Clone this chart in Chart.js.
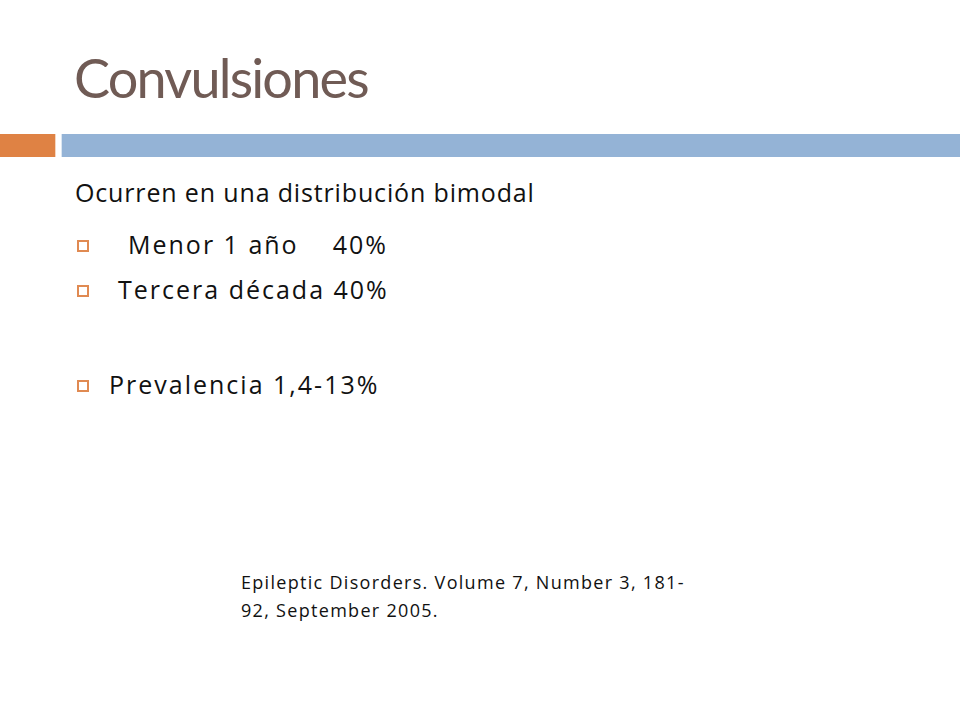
<!DOCTYPE html>
<html>
<head>
<meta charset="utf-8">
<script src="https://cdn.jsdelivr.net/npm/chart.js@4"></script>
<style>
  html, body { margin: 0; padding: 0; background: #fff; }
  body { width: 960px; height: 720px; position: relative; overflow: hidden; font-family: "Open Sans", Lato, sans-serif; }
  .title { position: absolute; left: 74px; top: 45px; font-family: Lato, sans-serif; font-size: 54px; letter-spacing: -1.8px; color: #705b55; white-space: nowrap; }
  .band { position: absolute; left: 0; top: 134px; width: 960px; height: 23px; }
  .lead { position: absolute; left: 75px; top: 175px; font-size: 25px; letter-spacing: 0.85px; color: #111; white-space: nowrap; }
  .item { position: absolute; font-size: 25px; letter-spacing: 2px; color: #111; white-space: nowrap; }
  .item i { position: absolute; top: 13px; width: 8px; height: 8px; border: 2px solid #e08a52; }
  .item .gap { display: inline-block; width: 34px; }
  .cite { position: absolute; left: 241px; top: 568px; font-size: 18px; letter-spacing: 1.3px; line-height: 28px; color: #111; white-space: nowrap; }
</style>
</head>
<body>
<div class="title" id="title"></div>
<div class="band"><canvas id="band" width="960" height="23"></canvas></div>
<div class="lead" id="lead"></div>
<div id="items"></div>
<div class="cite" id="cite"></div>
<script>
// slide content
const titleText = "Convulsiones";
const leadText = "Ocurren en una distribución bimodal";
const groups = ["Menor 1 año", "Tercera década"];
const groupShare = [40, 40];
const prevalenceLabel = "Prevalencia";
const prevalenceRange = ["1,4", "13"];
const citeLines = ["Epileptic Disorders. Volume 7, Number 3, 181-", "92, September 2005."];

// header band segments (orange, gap, blue) on the 960 wide slide
const bandParts = ["accent", "gap", "main"];
const bandValues = [55, 7, 898];

document.getElementById("title").textContent = titleText;
document.getElementById("lead").textContent = leadText;
document.getElementById("cite").innerHTML = citeLines.join("<br>");

const items = document.getElementById("items");
const itemPos = [[128, 227], [118, 272], [109, 367]];
const itemHtml = [
    groups[0] + '<span class="gap"></span>' + groupShare[0] + "%",
    groups[1] + " " + groupShare[1] + "%",
    prevalenceLabel + " " + prevalenceRange[0] + "-" + prevalenceRange[1] + "%"
];
const bulletLeft = 77;
itemHtml.forEach((t, i) => {
    const d = document.createElement("div");
    d.className = "item";
    d.style.left = itemPos[i][0] + "px";
    d.style.top = itemPos[i][1] + "px";
    d.innerHTML = t;
    const b = document.createElement("i");
    b.style.left = (bulletLeft - itemPos[i][0]) + "px";
    d.appendChild(b);
    items.appendChild(d);
});

const bandColors = ["#df8244", "rgba(0,0,0,0)", "#94b3d6"];
new Chart("band", {
    type: "bar",
    data: {
        labels: [""],
        datasets: bandParts.map((p, i) => ({
            label: p,
            data: [bandValues[i]],
            backgroundColor: bandColors[i],
            borderWidth: 0,
            barPercentage: 1,
            categoryPercentage: 1
        }))
    },
    options: {
        indexAxis: "y",
        responsive: false,
        animation: false,
        maintainAspectRatio: false,
        layout: { padding: 0 },
        plugins: { legend: { display: false }, tooltip: { enabled: false } },
        scales: {
            x: { stacked: true, min: 0, max: 960, display: false },
            y: { stacked: true, display: false }
        }
    }
});
</script>
</body>
</html>
